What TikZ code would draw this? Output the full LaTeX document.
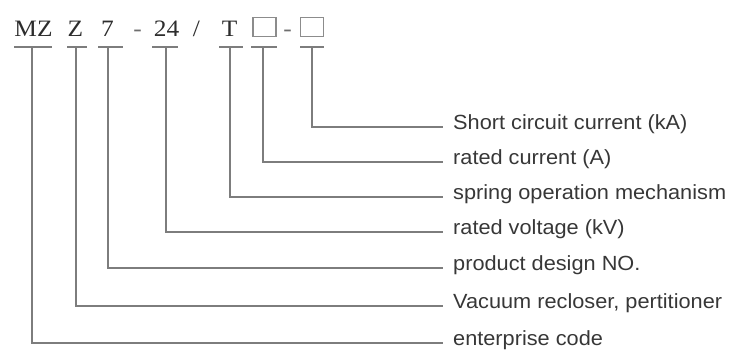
\documentclass[tikz,border=0pt]{standalone}
\usepackage{fontspec}
\setmainfont{Liberation Sans}
\newfontfamily\codefont{Liberation Serif}[FakeStretch=1.08]
\newfontfamily\labfont{Liberation Sans}[FakeStretch=1.06]
\definecolor{linegray}{RGB}{125,125,125}
\definecolor{codecol}{RGB}{45,45,45}
\definecolor{dashgray}{RGB}{110,110,110}
\definecolor{slotgray}{RGB}{140,140,140}
\definecolor{labcol}{RGB}{55,55,55}
\begin{document}
\begin{tikzpicture}[x=1pt,y=-1pt,
  conn/.style={draw=linegray, line width=1.5pt},
  code/.style={font=\codefont\fontsize{23.5}{25}\selectfont, text=codecol, inner sep=0pt, anchor=base},
  lab/.style={font=\labfont\fontsize{20.5}{24}\selectfont, text=labcol, inner sep=0pt, anchor=mid west},
  slot/.style={draw=slotgray, line width=1.3pt, minimum width=23pt, minimum height=19pt, inner sep=0pt}]
\useasboundingbox (0,0) rectangle (731,353);
% code string
\node[code] (mz) at (33.5,36.5) {MZ};
\node[code] (z) at (75.5,36.5) {Z};
\node[code] (n7) at (107.5,36.5) {7};
\node[code, text=dashgray] (d1) at (137.5,36.5) {-};
\node[code] (n24) at (166.5,36.5) {24};
\node[code] (sl) at (196.5,36.5) {/};
\node[code] (t) at (229.5,36.5) {T};
\node[slot] (b1) at (264.5,27) {};
\node[code, text=dashgray] (d2) at (287.5,36.5) {-};
\node[slot] (b2) at (312,27) {};
% labels
\node[lab] (l1) at (453,127) {Short circuit current (kA)};
\node[lab] (l2) at (453,162) {rated current (A)};
\node[lab] (l3) at (453,197) {spring operation mechanism};
\node[lab] (l4) at (453,232) {rated voltage (kV)};
\node[lab] (l5) at (453,268) {product design NO.};
\node[lab] (l6) at (453,306) {Vacuum recloser, pertitioner};
\node[lab] (l7) at (453,343) {enterprise code};
% bar coordinates
\coordinate (mzb) at (32,47);
\coordinate (zb) at (76,47);
\coordinate (n7b) at (108,47);
\coordinate (n24b) at (166,47);
\coordinate (tb) at (230,47);
\coordinate (b1b) at (263,47);
\coordinate (b2b) at (312,47);
% bars
\draw[conn] ([xshift=-18pt]mzb) -- ([xshift=20pt]mzb);
\draw[conn] ([xshift=-9pt]zb) -- ([xshift=11pt]zb);
\draw[conn] ([xshift=-10pt]n7b) -- ([xshift=15pt]n7b);
\draw[conn] ([xshift=-14pt]n24b) -- ([xshift=12pt]n24b);
\draw[conn] ([xshift=-11pt]tb) -- ([xshift=13pt]tb);
\draw[conn] ([xshift=-12pt]b1b) -- ([xshift=14pt]b1b);
\draw[conn] ([xshift=-12pt]b2b) -- ([xshift=12pt]b2b);
% connectors
\draw[conn, shorten >=10pt] (b2b) |- (l1.mid west);
\draw[conn, shorten >=10pt] (b1b) |- (l2.mid west);
\draw[conn, shorten >=10pt] (tb) |- (l3.mid west);
\draw[conn, shorten >=10pt] (n24b) |- (l4.mid west);
\draw[conn, shorten >=10pt] (n7b) |- (l5.mid west);
\draw[conn, shorten >=10pt] (zb) |- (l6.mid west);
\draw[conn, shorten >=10pt] (mzb) |- (l7.mid west);
\end{tikzpicture}
\end{document}
